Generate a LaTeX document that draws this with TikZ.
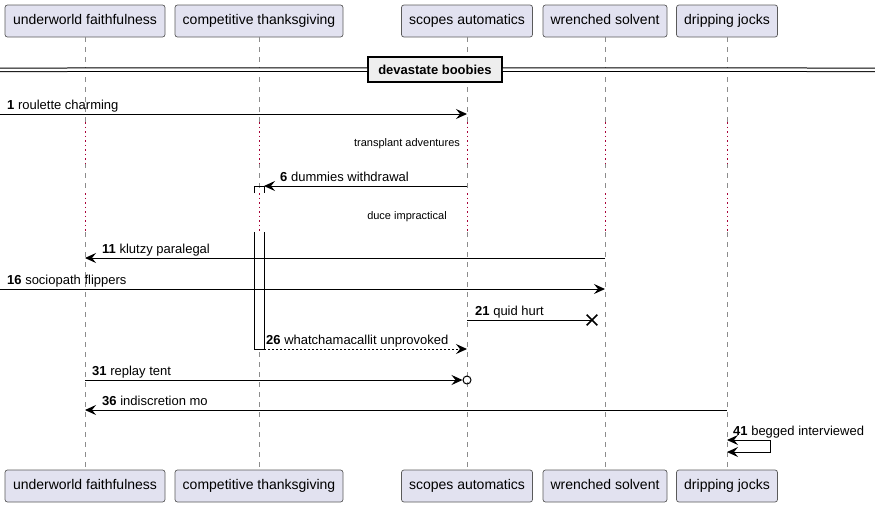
\documentclass[tikz,border=0pt]{standalone}
\usepackage{fontspec}
\setmainfont{Liberation Sans}
\usetikzlibrary{arrows.meta, shapes.misc}
\definecolor{boxfill}{RGB}{226, 226, 240}
\definecolor{boxline}{RGB}{90, 90, 90}
\definecolor{delayred}{RGB}{168, 0, 54}
\definecolor{divfill}{RGB}{238, 238, 238}

\tikzset{
  actor/.style={draw=boxline, fill=boxfill, line width=0.7pt, rounded corners=2.5pt,
    minimum height=32pt, inner xsep=0pt, text height=10.5pt, text depth=3pt,
    font=\fontsize{14}{16}\selectfont},
  lifeline/.style={black!45, line width=0.8pt, dash pattern=on 5pt off 5pt},
  delayline/.style={delayred, line width=1pt, dash pattern=on 1.5pt off 3pt},
  msg/.style={line width=1pt, -{Stealth[length=11pt, width=10pt, inset=4pt]}},
  lbl/.style={anchor=base west, inner sep=0pt, font=\fontsize{13}{15}\selectfont},
  delaytxt/.style={inner sep=0pt, font=\fontsize{11}{13}\selectfont},
}

\begin{document}
\begin{tikzpicture}[x=1pt, y=-1pt]
    \useasboundingbox (0,0) rectangle (875,507);

    \node[actor, minimum width=160pt] (uf-t) at (85,21) {underworld faithfulness};
    \node[actor, minimum width=168pt] (ct-t) at (259,21) {competitive thanksgiving};
    \node[actor, minimum width=131pt] (sa-t) at (467,21) {scopes automatics};
    \node[actor, minimum width=124pt] (ws-t) at (605,21) {wrenched solvent};
    \node[actor, minimum width=101pt] (dj-t) at (727,21) {dripping jocks};
    \node[actor, minimum width=160pt] (uf-b) at (85,486) {underworld faithfulness};
    \node[actor, minimum width=168pt] (ct-b) at (259,486) {competitive thanksgiving};
    \node[actor, minimum width=131pt] (sa-b) at (467,486) {scopes automatics};
    \node[actor, minimum width=124pt] (ws-b) at (605,486) {wrenched solvent};
    \node[actor, minimum width=101pt] (dj-b) at (727,486) {dripping jocks};

    % Delay bands and message rows
    \coordinate (d1a) at (0,122);  \coordinate (d1b) at (0,163);
    \coordinate (d2a) at (0,193);  \coordinate (d2b) at (0,232);
    \coordinate (r1) at (0,114);   \coordinate (r6) at (0,186);
    \coordinate (r11) at (0,258);  \coordinate (r16) at (0,289);
    \coordinate (r21) at (0,320);  \coordinate (r26) at (0,349);
    \coordinate (r31) at (0,380);  \coordinate (r36) at (0,410);
    \coordinate (r41) at (0,440);  \coordinate (r41b) at (0,452);

    % Lifelines
    \foreach \p in {uf,ct,sa,ws,dj} {
      \draw[lifeline] (\p-t.south) -- (\p-t.south |- d1a)
        (\p-t.south |- d1b) -- (\p-t.south |- d2a)
        (\p-t.south |- d2b) -- (\p-b.north);
      \draw[delayline] (\p-t.south |- d1a) -- (\p-t.south |- d1b)
        (\p-t.south |- d2a) -- (\p-t.south |- d2b);
    }
    \node[delaytxt] (delay1) at (407,144) {transplant adventures};
    \node[delaytxt] (delay2) at (407,216.5) {duce impractical};

    % Divider
    \node[draw, fill=divfill, line width=1.6pt, minimum width=134pt, minimum height=25pt,
      inner sep=0pt, font=\bfseries\fontsize{13}{15}\selectfont] (div) at (435,69.5) {devastate boobies};
    \coordinate (divL) at (0,69.8);
    \coordinate (divR) at (875,69.8);
    \draw[double, line width=1pt, double distance=2.5pt] (divL) -- (div.west) (div.east) -- (divR);

    % Activation on competitive thanksgiving
    \coordinate (act-nw) at (254,186);
    \coordinate (act-se) at (264,349);
    \draw[line width=0.8pt] (act-nw |- d2a) -- (act-nw) -- (act-se |- act-nw) -- (act-se |- d2a);
    \draw[line width=0.8pt, fill=white] (act-nw |- d2b) -- (act-nw |- act-se) -- (act-se) -- (act-se |- d2b);

    % Messages
    \draw[msg] (r1) -- (sa-t.south |- r1);
    \node[lbl] (l1) at (7,109) {\textbf{1} roulette charming};
    \draw[msg] (sa-t.south |- r6) -- (act-se |- r6);
    \node[lbl] (l6) at (280,181) {\textbf{6} dummies withdrawal};
    \draw[msg] (ws-t.south |- r11) -- (uf-t.south |- r11);
    \node[lbl] (l11) at (102,253) {\textbf{11} klutzy paralegal};
    \draw[msg] (r16) -- (ws-t.south |- r16);
    \node[lbl] (l16) at (7,284) {\textbf{16} sociopath flippers};
    \node[draw, cross out, minimum size=9pt, inner sep=0pt, line width=1.6pt] (kill) at (592,320) {};
    \draw[line width=1pt] (sa-t.south |- r21) -- (kill.center);
    \node[lbl] (l21) at (475,315) {\textbf{21} quid hurt};
    \draw[msg, dash pattern=on 2pt off 2pt] (act-se) -- (sa-t.south |- r26);
    \node[lbl] (l26) at (266,344) {\textbf{26} whatchamacallit unprovoked};
    \node[draw, circle, minimum size=8pt, inner sep=0pt, line width=1pt] (lost) at (467,380) {};
    \draw[msg] (uf-t.south |- r31) -- (lost);
    \node[lbl] (l31) at (92,375) {\textbf{31} replay tent};
    \draw[msg] (dj-t.south |- r36) -- (uf-t.south |- r36);
    \node[lbl] (l36) at (102,405) {\textbf{36} indiscretion mo};

    % Self message
    \coordinate (loop) at (770,440);
    \draw[msg, {Stealth[length=11pt, width=10pt, inset=4pt]}-{Stealth[length=11pt, width=10pt, inset=4pt]}]
      (dj-t.south |- r41) -- (loop) -- (loop |- r41b) -- (dj-t.south |- r41b);
    \node[lbl] (l41) at (733,435) {\textbf{41} begged interviewed};
\end{tikzpicture}
\end{document}
